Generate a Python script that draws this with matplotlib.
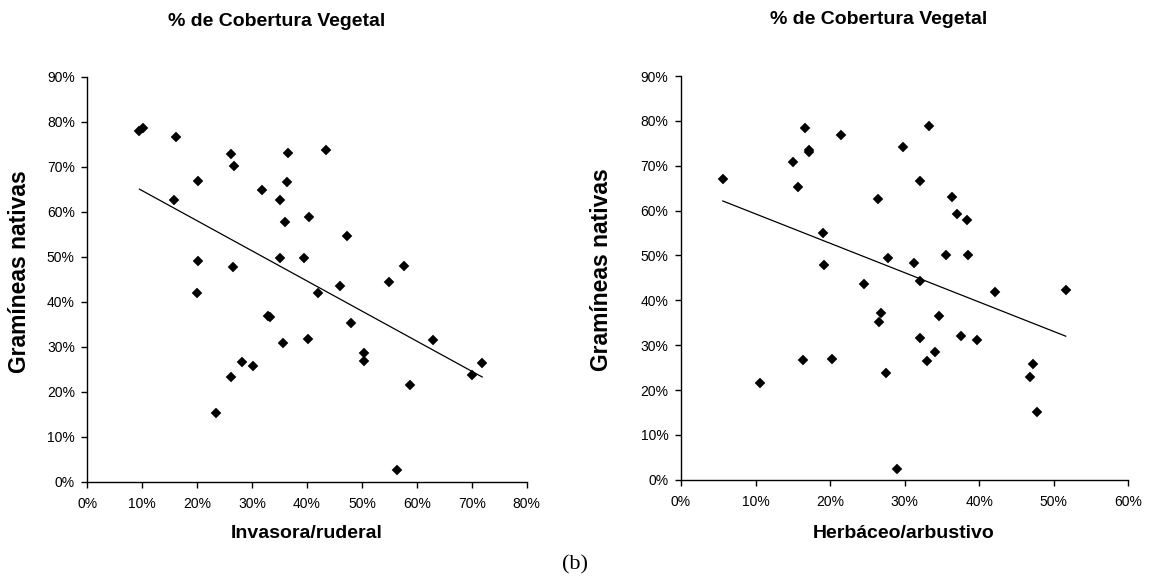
import numpy as np
import matplotlib
matplotlib.use("Agg")
import matplotlib.pyplot as plt
from matplotlib.ticker import PercentFormatter, MultipleLocator

# Left panel: Invasora/ruderal vs Gramíneas nativas
inv_x = [0.095, 0.102, 0.161, 0.261, 0.268, 0.366, 0.201, 0.364, 0.318, 0.157,
         0.350, 0.404, 0.360, 0.201, 0.266, 0.351, 0.394, 0.434, 0.472, 0.577,
         0.550, 0.460, 0.199, 0.329, 0.333, 0.357, 0.402, 0.282, 0.301, 0.261,
         0.234, 0.420, 0.480, 0.503, 0.503, 0.630, 0.719, 0.701, 0.588, 0.564]
inv_y = [0.780, 0.785, 0.765, 0.728, 0.702, 0.731, 0.669, 0.665, 0.648, 0.626,
         0.626, 0.589, 0.577, 0.491, 0.477, 0.497, 0.497, 0.737, 0.546, 0.480,
         0.443, 0.434, 0.420, 0.369, 0.366, 0.309, 0.318, 0.266, 0.257, 0.232,
         0.152, 0.420, 0.352, 0.287, 0.269, 0.315, 0.263, 0.237, 0.214, 0.026]

# Right panel: Herbáceo/arbustivo vs Gramíneas nativas
herb_x = [0.056, 0.166, 0.214, 0.171, 0.171, 0.150, 0.157, 0.264, 0.190, 0.192,
          0.246, 0.333, 0.298, 0.320, 0.364, 0.370, 0.383, 0.277, 0.313, 0.356,
          0.385, 0.320, 0.163, 0.202, 0.106, 0.421, 0.516, 0.268, 0.266, 0.346,
          0.321, 0.375, 0.397, 0.341, 0.330, 0.275, 0.472, 0.468, 0.478, 0.289]
herb_y = [0.670, 0.785, 0.768, 0.735, 0.730, 0.708, 0.652, 0.626, 0.549, 0.478,
          0.437, 0.788, 0.742, 0.667, 0.630, 0.592, 0.580, 0.494, 0.483, 0.500,
          0.500, 0.442, 0.267, 0.270, 0.215, 0.419, 0.422, 0.371, 0.351, 0.366,
          0.316, 0.320, 0.311, 0.285, 0.265, 0.239, 0.259, 0.230, 0.152, 0.025]

title = "% de Cobertura Vegetal"
ylabel = "Gramíneas nativas"
xlabels = ["Invasora/ruderal", "Herbáceo/arbustivo"]
xmaxes = [0.8, 0.6]
caption = "(b)"

plt.rcParams['font.family'] = ['Liberation Sans', 'DejaVu Sans']

W, H = 1150, 580
fig = plt.figure(figsize=(11.5, 5.8), dpi=100)
axes = [fig.add_axes([0.0759, 0.1695, 0.3821, 0.6983]),
        fig.add_axes([0.5922, 0.1729, 0.3890, 0.6960])]
title_pos = [(277, 21), (879, 19)]
ylabel_pos = [(20, 272), (601, 270)]
xlabel_pos = [(307, 533), (904, 533)]

for i, (ax, xs, ys) in enumerate(zip(axes, [inv_x, herb_x], [inv_y, herb_y])):
    xs = np.array(xs)
    ys = np.array(ys)
    ax.plot(xs, ys, linestyle='none', marker='D', markersize=4.8,
            color='black', markeredgewidth=0.3)
    m, b = np.polyfit(xs, ys, 1)
    xl = np.array([xs.min(), xs.max()])
    ax.plot(xl, m * xl + b, color='black', linewidth=0.9)
    ax.set_xlim(0, xmaxes[i])
    ax.set_ylim(0, 0.9)
    ax.xaxis.set_major_locator(MultipleLocator(0.1))
    ax.yaxis.set_major_locator(MultipleLocator(0.1))
    ax.xaxis.set_major_formatter(PercentFormatter(1.0, decimals=0))
    ax.yaxis.set_major_formatter(PercentFormatter(1.0, decimals=0))
    for s in ['top', 'right']:
        ax.spines[s].set_visible(False)
    for s in ['left', 'bottom']:
        ax.spines[s].set_linewidth(1.0)
        ax.spines[s].set_color('black')
    ax.tick_params(direction='out', length=4, width=1.0, labelsize=10,
                   colors='black', pad=5)
    ax.tick_params(axis='x', pad=7)
    tx, ty = title_pos[i]
    fig.text(tx / W, 1 - ty / H, title, fontsize=14, fontweight='bold',
             ha='center', va='center')
    lx, ly = xlabel_pos[i]
    fig.text(lx / W, 1 - ly / H, xlabels[i], fontsize=14, fontweight='bold',
             ha='center', va='center')
    yx, yy = ylabel_pos[i]
    fig.text(yx / W, 1 - yy / H, ylabel, fontsize=16.5, fontweight='bold',
             ha='center', va='center', rotation=90)

fig.text(575 / W, 1 - 565 / H, caption, fontsize=16,
         family=['Liberation Serif', 'DejaVu Serif'], ha='center', va='center')

fig.savefig("out.png", dpi=100, facecolor='white')
